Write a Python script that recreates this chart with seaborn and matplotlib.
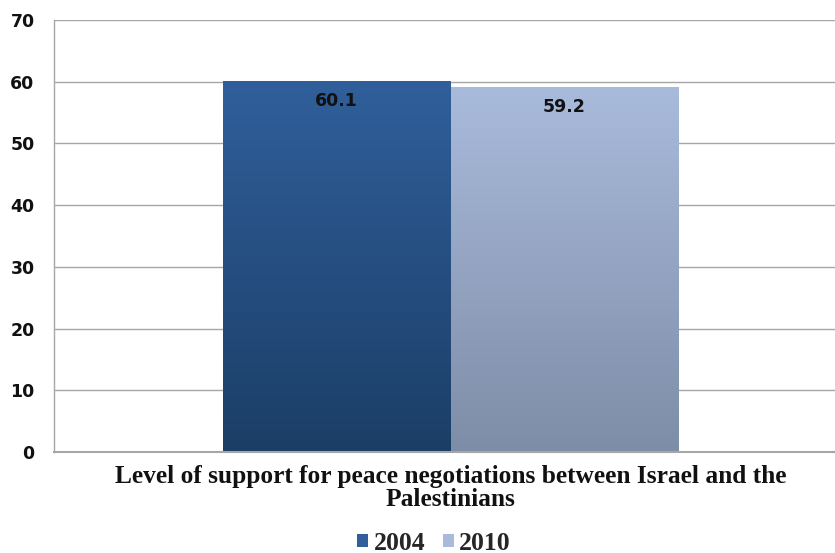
import numpy as np
import pandas as pd
import matplotlib
matplotlib.use("Agg")
import matplotlib.pyplot as plt
import seaborn as sns
from matplotlib.colors import LinearSegmentedColormap
from matplotlib.patches import Patch

categories = ["Level of support for peace negotiations between Israel and the\nPalestinians"]
years = ["2004", "2010"]
values_2004 = [60.1]
values_2010 = [59.2]
yticks = [0, 10, 20, 30, 40, 50, 60, 70]

df = pd.DataFrame({
    "category": categories * 2,
    "year": years[:1] * len(values_2004) + years[1:] * len(values_2010),
    "value": values_2004 + values_2010,
})

sns.set_theme(style="white")
top_colors = {"2004": "#305f9b", "2010": "#a9bbdc"}
bottom_colors = {"2004": "#1b3e66", "2010": "#7e8da7"}

fig = plt.figure(figsize=(8.35, 5.53), dpi=100)
ax = fig.add_axes([54 / 835, 1 - 452 / 553, 793 / 835, 432 / 553])

sns.barplot(data=df, x="category", y="value", hue="year", hue_order=years,
            palette=top_colors, width=0.574, ax=ax, legend=False,
            edgecolor="none", saturation=1)

ax.set_ylim(0, 70)
ax.set_xlim(-0.5, 0.5)
ax.set_yticks(yticks)
ax.set_yticklabels([str(t) for t in yticks], fontsize=12.5, fontweight="bold",
                   fontfamily="DejaVu Sans", color="#111111")
ax.tick_params(axis="y", length=0, pad=14)
ax.tick_params(axis="x", length=0, pad=9)
ax.set_xticks([0])
ax.set_xticklabels(categories, fontsize=18.3, fontweight="bold",
                   fontfamily="Liberation Serif", color="#111111", linespacing=1.02)
ax.set_xlabel("")
ax.set_ylabel("")
ax.yaxis.grid(True, color="#a6a6a6", linewidth=1)
ax.set_axisbelow(True)
for s in ["top", "right"]:
    ax.spines[s].set_visible(False)
ax.spines["left"].set_color("#a6a6a6")
ax.spines["bottom"].set_color("#a6a6a6")
ax.spines["left"].set_linewidth(1)
ax.spines["bottom"].set_linewidth(1.5)

# gradient fills clipped to bars
for patch, yr in zip(ax.patches, years):
    x0, y0 = patch.get_x(), patch.get_y()
    w, h = patch.get_width(), patch.get_height()
    cmap = LinearSegmentedColormap.from_list("g", [bottom_colors[yr], top_colors[yr]])
    grad = np.linspace(0, 1, 256).reshape(-1, 1)
    im = ax.imshow(grad, cmap=cmap, extent=[x0, x0 + w, y0, y0 + h],
                   origin="lower", aspect="auto", zorder=patch.get_zorder() + 0.1)
    im.set_clip_path(patch)
    ax.text(x0 + w / 2, y0 + h - 1.8, f"{h:.1f}", ha="center", va="top",
            fontsize=12.5, fontweight="bold", fontfamily="DejaVu Sans",
            color="#111111", zorder=5)
ax.set_xlim(-0.5, 0.5)
ax.set_ylim(0, 70)

handles = [Patch(facecolor=top_colors[y], edgecolor="none") for y in years]
fig.legend(handles, years, loc="center", bbox_to_anchor=(434 / 835, 1 - 543 / 553),
           ncol=2, frameon=False, prop={"family": "Liberation Serif", "weight": "bold", "size": 18.5},
           handlelength=0.42, handleheight=0.42, handletextpad=0.2, columnspacing=0.7)

fig.savefig("out.png", dpi=100)
